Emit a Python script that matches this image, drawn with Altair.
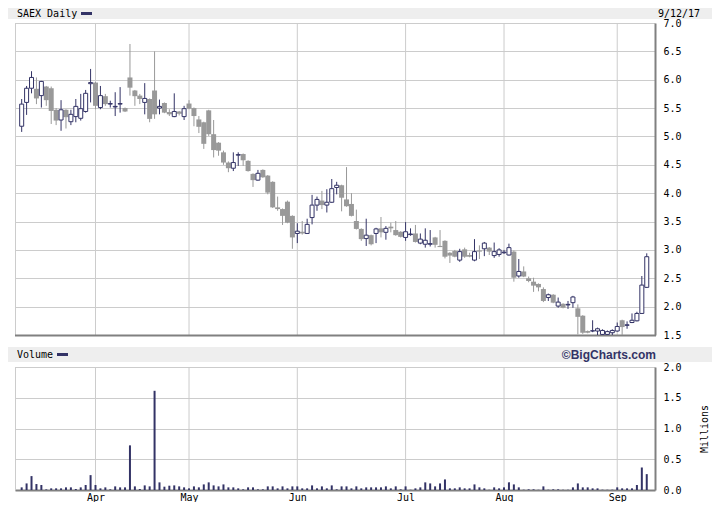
import altair as alt
import pandas as pd

# ---- data (trading-day index 0 = first candle, mid-March 2017) ----
opens = [5.18, 5.60, 5.85, 5.84, 5.72, 5.88, 5.85, 5.47, 5.29, 5.47,
         5.26, 5.35, 5.32, 5.44, 5.93, 5.95, 5.51, 5.71, 5.57, 5.52,
         5.57, 5.50, 6.04, 5.81, 5.72, 5.60, 5.66, 5.81, 5.50, 5.59,
         5.43, 5.35, 5.44, 5.35, 5.58, 5.50, 5.30, 5.25, 5.46, 5.04,
         4.89, 4.72, 4.54, 4.44, 4.67, 4.69, 4.57, 4.34, 4.23, 4.41,
         4.31, 4.20, 3.75, 3.72, 3.85, 3.60, 3.29, 3.32, 3.29, 3.57,
         3.79, 3.87, 3.79, 3.84, 4.10, 4.14, 3.89, 3.81, 3.51, 3.37,
         3.20, 3.26, 3.29, 3.38, 3.31, 3.41, 3.35, 3.32, 3.22, 3.27,
         3.29, 3.12, 3.10, 3.10, 3.22, 3.07, 3.16, 2.95, 2.98, 2.82,
         3.01, 2.91, 2.82, 2.99, 3.02, 3.04, 2.90, 2.92, 2.95, 2.91,
         2.97, 2.54, 2.62, 2.50, 2.44, 2.40, 2.31, 2.16, 2.21, 2.01,
         2.05, 2.03, 2.07, 1.97, 1.84, 1.57, 1.57, 1.57, 1.51, 1.51,
         1.54, 1.57, 1.76, 1.67, 1.72, 1.75, 1.88, 2.34]
highs = [5.66, 5.89, 6.15, 6.04, 5.98, 5.89, 5.88, 5.50, 5.64, 5.48,
         5.47, 5.66, 5.75, 5.82, 6.19, 5.96, 5.89, 5.75, 5.63, 5.78,
         5.87, 5.51, 6.63, 5.82, 5.75, 5.94, 5.67, 6.50, 5.65, 5.60,
         5.48, 5.76, 5.45, 5.54, 5.64, 5.51, 5.36, 5.26, 5.47, 5.29,
         4.90, 4.75, 4.56, 4.72, 4.72, 4.70, 4.58, 4.35, 4.41, 4.42,
         4.32, 4.21, 3.94, 3.73, 3.87, 3.61, 3.47, 3.51, 3.55, 3.97,
         3.94, 4.04, 4.07, 4.25, 4.20, 4.15, 4.46, 4.00, 3.71, 3.38,
         3.55, 3.27, 3.39, 3.58, 3.42, 3.48, 3.51, 3.33, 3.49, 3.38,
         3.44, 3.29, 3.38, 3.35, 3.23, 3.35, 3.17, 2.96, 3.00, 3.02,
         3.04, 2.95, 3.19, 3.08, 3.14, 3.05, 3.13, 3.03, 3.00, 3.11,
         2.99, 2.84, 2.71, 2.53, 2.51, 2.41, 2.34, 2.23, 2.22, 2.16,
         2.06, 2.10, 2.19, 2.04, 1.85, 1.58, 1.76, 1.63, 1.60, 1.58,
         1.60, 1.72, 1.77, 1.74, 1.88, 1.91, 2.54, 2.94]
lows = [5.08, 5.38, 5.76, 5.57, 5.51, 5.54, 5.22, 5.20, 5.10, 5.14,
        5.20, 5.25, 5.28, 5.42, 5.60, 5.48, 5.48, 5.54, 5.51, 5.36,
        5.42, 5.43, 5.72, 5.54, 5.57, 5.39, 5.25, 5.31, 5.39, 5.41,
        5.36, 5.34, 5.37, 5.29, 5.48, 5.18, 5.06, 4.78, 5.01, 4.63,
        4.66, 4.50, 4.37, 4.39, 4.48, 4.48, 4.38, 4.11, 4.22, 4.27,
        3.98, 3.74, 3.69, 3.44, 3.47, 3.02, 3.12, 3.27, 3.28, 3.45,
        3.69, 3.72, 3.66, 3.83, 3.98, 3.68, 3.76, 3.59, 3.36, 3.16,
        3.07, 3.08, 3.12, 3.22, 3.18, 3.31, 3.25, 3.22, 3.16, 3.25,
        3.13, 3.10, 3.04, 3.06, 3.04, 3.05, 2.85, 2.77, 2.87, 2.79,
        2.86, 2.87, 2.80, 2.84, 2.89, 2.91, 2.86, 2.88, 2.93, 2.90,
        2.44, 2.51, 2.52, 2.43, 2.26, 2.27, 2.08, 2.10, 2.06, 1.98,
        1.97, 1.96, 1.98, 1.51, 1.52, 1.53, 1.55, 1.50, 1.50, 1.50,
        1.50, 1.56, 1.50, 1.61, 1.71, 1.74, 1.88, 2.33]
closes = [5.57, 5.85, 6.04, 5.67, 5.97, 5.64, 5.45, 5.28, 5.47, 5.34,
          5.39, 5.53, 5.49, 5.76, 5.95, 5.54, 5.72, 5.57, 5.58, 5.53,
          5.58, 5.44, 5.86, 5.71, 5.66, 5.67, 5.31, 5.39, 5.53, 5.42,
          5.39, 5.44, 5.40, 5.49, 5.49, 5.36, 5.17, 4.87, 5.04, 4.76,
          4.75, 4.54, 4.44, 4.54, 4.68, 4.58, 4.39, 4.23, 4.35, 4.28,
          4.01, 3.75, 3.72, 3.60, 3.48, 3.22, 3.33, 3.29, 3.45, 3.79,
          3.89, 3.79, 3.84, 4.08, 4.14, 3.92, 3.77, 3.60, 3.37, 3.19,
          3.26, 3.10, 3.37, 3.31, 3.38, 3.38, 3.26, 3.23, 3.32, 3.28,
          3.14, 3.19, 3.17, 3.11, 3.09, 3.05, 2.88, 2.90, 2.88, 2.97,
          2.88, 2.88, 2.97, 2.97, 3.12, 2.97, 2.97, 3.00, 2.96, 3.04,
          2.51, 2.62, 2.53, 2.45, 2.37, 2.34, 2.10, 2.21, 2.07, 2.08,
          1.98, 2.04, 2.17, 1.82, 1.54, 1.54, 1.575, 1.61, 1.58, 1.56,
          1.58, 1.65, 1.64, 1.68, 1.76, 1.88, 2.38, 2.88]
volumes = [0.043, 0.107, 0.226, 0.097, 0.081, 0.010, 0.027, 0.027, 0.027, 0.043,
           0.043, 0.016, 0.043, 0.081, 0.242, 0.081, 0.027, 0.043, 0.011, 0.059,
           0.043, 0.043, 0.726, 0.059, 0.016, 0.075, 0.059, 1.613, 0.124, 0.054,
           0.070, 0.075, 0.059, 0.043, 0.027, 0.059, 0.043, 0.091, 0.124, 0.075,
           0.059, 0.091, 0.043, 0.043, 0.027, 0.011, 0.043, 0.043, 0.011, 0.011,
           0.059, 0.059, 0.027, 0.059, 0.027, 0.059, 0.059, 0.027, 0.027, 0.075,
           0.027, 0.059, 0.027, 0.075, 0.011, 0.059, 0.059, 0.027, 0.059, 0.027,
           0.043, 0.043, 0.043, 0.043, 0.059, 0.027, 0.059, 0.011, 0.059, 0.004,
           0.027, 0.043, 0.124, 0.107, 0.059, 0.107, 0.172, 0.027, 0.027, 0.043,
           0.027, 0.027, 0.091, 0.043, 0.027, 0.004, 0.043, 0.027, 0.043, 0.124,
           0.091, 0.043, 0.005, 0.011, 0.011, 0.004, 0.059, 0.005, 0.011, 0.011,
           0.004, 0.004, 0.043, 0.107, 0.043, 0.043, 0.027, 0.027, 0.005, 0.004,
           0.005, 0.043, 0.027, 0.027, 0.027, 0.081, 0.366, 0.258]

month_idx = [15, 34, 56, 78, 98, 121]
month_labels = ["Apr", "May", "Jun", "Jul", "Aug", "Sep"]
price_ticks = [1.5, 2.0, 2.5, 3.0, 3.5, 4.0, 4.5, 5.0, 5.5, 6.0, 6.5, 7.0]
volume_ticks = [0.0, 0.5, 1.0, 1.5, 2.0]

NAVY = "#333366"
GRAY = "#999999"
GRID = "#cccccc"
AXIS = "#808080"
BAND = "#eeeeee"
MONO = "DejaVu Sans Mono"

# panel geometry inside the single view (pixels)
P_TOP, P_BOT = 0, 312        # price panel
V_TOP, V_BOT = 344, 467      # volume panel
RIGHT_EDGE = 697             # right end of the header bands

df = pd.DataFrame({
    "idx": list(range(len(opens))),
    "open": opens, "high": highs, "low": lows, "close": closes, "vol": volumes,
})
df["dir"] = ["up" if c >= o else "down" for o, c in zip(opens, closes)]
months_df = pd.DataFrame({"idx": month_idx, "label": month_labels})
one = pd.DataFrame({"k": [0]})

label_expr = ("[" + ",".join(f"'{m}'" for m in month_labels) + "][indexof(["
              + ",".join(str(v) for v in month_idx) + "], datum.value)]")

x_enc = alt.X(
    "idx:Q",
    scale=alt.Scale(domain=[-0.34, 127.66], nice=False, zero=False),
    axis=alt.Axis(values=month_idx, labelExpr=label_expr, grid=False, ticks=False,
                  domainColor=AXIS, domainWidth=2, labelFont=MONO, labelFontSize=10,
                  labelColor="black", labelPadding=2, labelFlush=False, title=None),
)

pscale = alt.Scale(domain=[1.5, 7.0], range=[P_BOT, P_TOP], nice=False, zero=False)
paxis = alt.Axis(orient="right", values=price_ticks, format=".1f", grid=True,
                 gridColor=GRID, gridWidth=1, domainColor=AXIS, domainWidth=2,
                 ticks=False, labelPadding=8, labelFont=MONO, labelFontSize=10,
                 labelColor="black", title=None)
vscale = alt.Scale(domain=[0, 2], range=[V_BOT, V_TOP], nice=False)
vaxis = alt.Axis(orient="right", values=volume_ticks, format=".1f", grid=True,
                 gridColor=GRID, gridWidth=1, domainColor=AXIS, domainWidth=2,
                 ticks=False, labelPadding=8, labelFont=MONO, labelFontSize=10,
                 labelColor="black", title=None)

# ---- price panel ----
vgrid_p = alt.Chart(months_df).mark_rule(color=GRID, strokeWidth=1).encode(
    x=x_enc, y=alt.value(P_TOP), y2=alt.value(P_BOT))
left_p = alt.Chart(one).mark_rule(color=GRID, strokeWidth=1).encode(
    x=alt.value(0.5), y=alt.value(P_TOP), y2=alt.value(P_BOT))
bottom_p = alt.Chart(one).mark_rule(color=AXIS, strokeWidth=2).encode(
    x=alt.value(0), x2=alt.value(641), y=alt.value(P_BOT + 0.5))
wick = alt.Chart(df).mark_rule(strokeWidth=1).encode(
    x=x_enc,
    y=alt.Y("low:Q", scale=pscale, axis=paxis),
    y2="high:Q",
    color=alt.Color("dir:N", scale=alt.Scale(domain=["up", "down"], range=[NAVY, GRAY]),
                    legend=None),
)
body_down = alt.Chart(df).transform_filter("datum.dir == 'down'").mark_bar(
    size=5, color=GRAY).encode(
    x=x_enc, y=alt.Y("open:Q", scale=pscale, axis=paxis), y2="close:Q")
body_up = alt.Chart(df).transform_filter("datum.dir == 'up'").mark_bar(
    size=4, fill="white", stroke=NAVY, strokeWidth=1).encode(
    x=x_enc, y=alt.Y("open:Q", scale=pscale, axis=paxis), y2="close:Q")
price_layer = alt.layer(vgrid_p, left_p, bottom_p, wick, body_down, body_up)

# ---- volume panel ----
vgrid_v = alt.Chart(months_df).mark_rule(color=GRID, strokeWidth=1).encode(
    x=x_enc, y=alt.value(V_TOP), y2=alt.value(V_BOT))
left_v = alt.Chart(one).mark_rule(color=GRID, strokeWidth=1).encode(
    x=alt.value(0.5), y=alt.value(V_TOP), y2=alt.value(V_BOT))
vol = alt.Chart(df).mark_bar(size=2, color=NAVY).encode(
    x=x_enc, y=alt.Y("vol:Q", scale=vscale, axis=vaxis))
vol_layer = alt.layer(vgrid_v, left_v, vol)

# ---- header bands and texts ----
band_top = alt.Chart(one).mark_rect(color=BAND).encode(
    x=alt.value(-7), x2=alt.value(RIGHT_EDGE), y=alt.value(-15), y2=alt.value(-4))
band_vol = alt.Chart(one).mark_rect(color=BAND).encode(
    x=alt.value(-7), x2=alt.value(RIGHT_EDGE), y=alt.value(324), y2=alt.value(339))
t_title = alt.Chart(one).mark_text(text="SAEX Daily", font=MONO, fontSize=10, align="left",
                                   baseline="middle", color="black").encode(
    x=alt.value(2), y=alt.value(-9.5))
dash_title = alt.Chart(one).mark_rule(color=NAVY, strokeWidth=3).encode(
    x=alt.value(66), x2=alt.value(77), y=alt.value(-9.5))
t_date = alt.Chart(one).mark_text(text="9/12/17", font=MONO, fontSize=10, align="left",
                                  baseline="middle", color="black").encode(
    x=alt.value(643), y=alt.value(-9.5))
t_vol = alt.Chart(one).mark_text(text="Volume", font=MONO, fontSize=10, align="left",
                                 baseline="middle", color="black").encode(
    x=alt.value(2), y=alt.value(331.5))
dash_vol = alt.Chart(one).mark_rule(color=NAVY, strokeWidth=3).encode(
    x=alt.value(42), x2=alt.value(53), y=alt.value(331.5))
t_brand = alt.Chart(one).mark_text(text="\u00a9BigCharts.com", font="Liberation Sans",
                                   fontSize=12, fontWeight="bold", align="right",
                                   baseline="middle", color=NAVY).encode(
    x=alt.value(641), y=alt.value(331.5))
t_mill = alt.Chart(one).mark_text(text="Millions", font=MONO, fontSize=10, align="center",
                                  baseline="middle", angle=270, color="black").encode(
    x=alt.value(690), y=alt.value(406))

chart = alt.layer(
    band_top, band_vol, t_title, dash_title, t_date, t_vol, dash_vol, t_brand, t_mill,
    price_layer, vol_layer,
).resolve_scale(y="independent").properties(
    width=640, height=V_BOT, padding=0
).configure_view(stroke=None)

chart.save("out.html", embed_options={"renderer": "svg", "actions": False})
